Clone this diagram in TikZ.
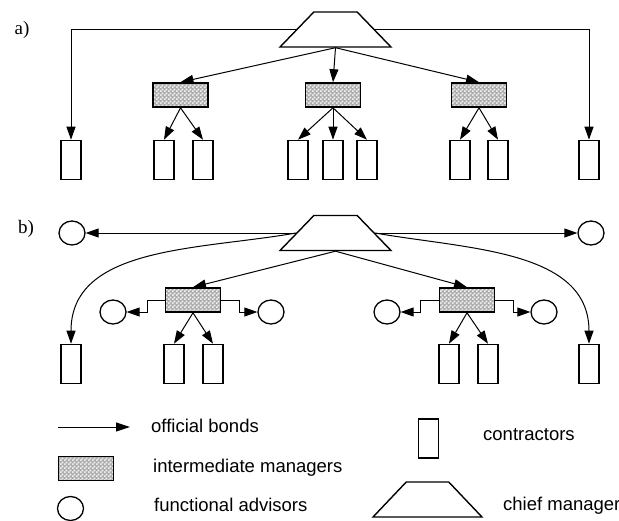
\documentclass[tikz,border=0pt]{standalone}
\usepackage{fontspec}
\setmainfont{Liberation Sans}
\newfontfamily\partfont{Liberation Serif}
\usetikzlibrary{arrows.meta,shapes.geometric,patterns}

\pgfdeclarepatternformonly{fine checker}{\pgfpointorigin}{\pgfqpoint{4pt}{4pt}}{\pgfqpoint{4pt}{4pt}}{%
  \pgfpathrectangle{\pgfpointorigin}{\pgfqpoint{2pt}{2pt}}%
  \pgfpathrectangle{\pgfqpoint{2pt}{2pt}}{\pgfqpoint{2pt}{2pt}}%
  \pgfusepath{fill}}

\tikzset{
  bond/.style={line width=1pt, -{Triangle[length=13pt,width=9pt]}},
  chief/.style={draw, line width=1.4pt, trapezium, trapezium stretches=true,
    trapezium angle=52, minimum width=111pt, minimum height=35pt, inner sep=2pt},
  manager/.style={draw, line width=1.6pt, minimum width=55pt, minimum height=24pt,
    inner sep=0pt, preaction={fill=gray!65}, pattern=fine checker, pattern color=gray!12},
  worker/.style={draw, line width=1.6pt, minimum width=20pt, minimum height=39pt, inner sep=0pt},
  advisor/.style={draw, line width=1.3pt, ellipse, minimum width=26pt, minimum height=24pt, inner sep=0pt},
  legend/.style={anchor=west, inner sep=0pt, font=\fontsize{18.5}{20}\selectfont},
  part/.style={inner sep=0pt, font=\partfont\fontsize{19}{20}\selectfont}
}

\begin{document}
\begin{tikzpicture}[x=1pt, y=-1pt]
  \useasboundingbox (0,0) rectangle (619,520);

  % a) line organisation
  \node[part] (pa) at (22,30) {a)};
  \node[chief] (chiefA) at (335.5,29.5) {};
  \foreach \n/\x in {1/180.5, 2/333, 3/479} {
    \node[manager] (ma\n) at (\x,95) {};
  }
  \foreach \n/\x in {1/71, 2/164, 3/203, 4/298, 5/333, 6/367, 7/460, 8/498, 9/589} {
    \node[worker] (ca\n) at (\x,160) {};
  }
  \draw[bond] (chiefA.west) -| (ca1.north);
  \draw[bond] (chiefA.east) -| (ca9.north);
  \foreach \m in {1,2,3} {
    \draw[bond] (chiefA.south) -- (ma\m.north);
  }
  \foreach \m/\c in {1/2, 1/3, 2/4, 2/5, 2/6, 3/7, 3/8} {
    \draw[bond] (ma\m.south) -- (ca\c.north);
  }

  % b) functional organisation
  \node[part] (pb) at (26,229) {b)};
  \node[chief] (chiefB) at (335.5,233) {};
  \node[advisor] (fb1) at (72,233) {};
  \node[advisor] (fb2) at (591,233) {};
  \foreach \n/\x in {1/193, 2/467} {
    \node[manager] (mb\n) at (\x,300) {};
  }
  \foreach \n/\x in {3/113, 4/271, 5/387, 6/544} {
    \node[advisor] (fb\n) at (\x,312) {};
  }
  \foreach \n/\x in {1/71, 2/174, 3/213, 4/449, 5/488, 6/589} {
    \node[worker] (cb\n) at (\x,364) {};
  }
  \draw[bond] (chiefB.west) -- (fb1.east);
  \draw[bond] (chiefB.east) -- (fb2.west);
  \draw[bond] (chiefB.west) to[out=190, in=90] (cb1.north);
  \draw[bond] (chiefB.east) to[out=-10, in=90] (cb6.north);
  \foreach \m in {1,2} {
    \draw[bond] (chiefB.south) -- (mb\m.north);
  }
  \draw[bond] (mb1.west) -- ++(-17,0) |- (fb3.east);
  \draw[bond] (mb1.east) -- ++(18,0) |- (fb4.west);
  \draw[bond] (mb2.west) -- ++(-18,0) |- (fb5.east);
  \draw[bond] (mb2.east) -- ++(18,0) |- (fb6.west);
  \foreach \m/\c in {1/2, 1/3, 2/4, 2/5} {
    \draw[bond] (mb\m.south) -- (cb\c.north);
  }

  % Legend
  \coordinate (lgfrom) at (58,427);
  \coordinate (lgto) at (130,427);
  \draw[line width=1pt, -{Triangle[length=14pt,width=9pt]}] (lgfrom) -- (lgto);
  \node[legend] (tbond) at (151,425.5) {official bonds};
  \node[manager] (lgmgr) at (86,468.5) {};
  \node[legend] (tmgr) at (153,467.5) {intermediate managers};
  \node[advisor] (lgadv) at (70.5,508.5) {};
  \node[legend] (tadv) at (154,505) {functional advisors};
  \node[worker] (lgwork) at (428.5,438.5) {};
  \node[legend] (twork) at (483,435) {contractors};
  \node[chief, minimum width=109pt] (lgchief) at (427.5,499.5) {};
  \node[legend] (tchief) at (503,505.5) {chief manager};
\end{tikzpicture}
\end{document}
